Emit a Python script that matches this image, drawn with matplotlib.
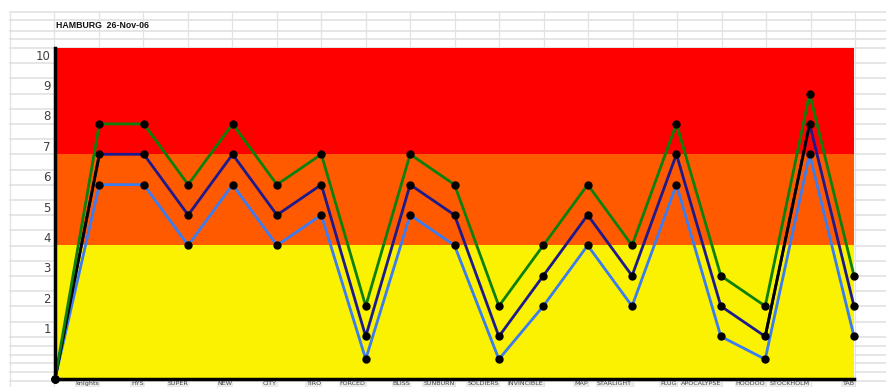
import matplotlib
matplotlib.use('Agg')
import matplotlib.pyplot as plt
import numpy as np

# Dados
pontos = ['', 'knights', 'HYS', 'SUPER', 'NEW', 'CITY', 'TIRO', 'FORCED', 'BLISS',
          'SUNBURN', 'SOLDIERS', 'INVINCIBLE', 'MAP', 'STARLIGHT', 'PLUG',
          'APOCALYPSE', 'HOODOO', 'STOCKHOLM', 'TAB']
serie_verde = [-0.4, 8, 8, 6, 8, 6, 7, 2, 7, 6, 2, 4, 6, 4, 8, 3, 2, 9, 3]
serie_azul_escuro = [-0.4, 7, 7, 5, 7, 5, 6, 1, 6, 5, 1, 3, 5, 3, 7, 2, 1, 8, 2]
serie_azul_claro = [-0.4, 6, 6, 4, 6, 4, 5, 0.25, 5, 4, 0.25, 2, 4, 2, 6, 1, 0.25, 7, 1]
faixas = [-0.4, 4, 7, 10.5]
rotulos_linhas = ['10', '9', '8', '7', '6', '5', '4', '3', '2', '1']
titulo = 'HAMBURG  26-Nov-06'

COLORS = {
    'amarelo': '#FAF200',
    'laranja': '#FF5A00',
    'vermelho': '#FF0000',
    'verde': '#0B800B',
    'azul_escuro': '#1C1A8C',
    'azul_claro': '#3A7CF2',
    'grade': '#E2E2E2',
}

W, H = 886, 387
fig = plt.figure(figsize=(W / 100, H / 100), dpi=100)

# Fundo tipo planilha
bg = fig.add_axes([0, 0, 1, 1])
bg.set_xlim(0, W)
bg.set_ylim(H, 0)
bg.axis('off')

linhas_y = [12, 20, 31, 39, 48] + [48 + 15.2 * k for k in range(1, 20)] + [346, 354.5, 363, 372, 380.5]
for y in linhas_y:
    bg.plot([10, W], [y, y], color=COLORS['grade'], lw=1.2, zorder=1)
for k in range(20):
    x = 10 + 44.5 * k
    bg.plot([x, x], [12, H], color=COLORS['grade'], lw=0.9, zorder=1)

bg.text(56, 25.5, titulo, ha='left', va='center', fontsize=6.3, fontweight='bold',
        family=['Liberation Sans Narrow', 'Liberation Sans', 'DejaVu Sans'], color='#111111')

for i, rot in enumerate(rotulos_linhas):
    bg.text(51, 56 + 30.4 * i, rot, ha='right', va='center', fontsize=8.5,
            color='#404040', family='DejaVu Sans')

# Area do grafico
x0, x1, y_top, y_bot = 55, 854, 48, 379
ax = fig.add_axes([x0 / W, (H - y_bot) / H, (x1 - x0) / W, (y_bot - y_top) / H])
ax.set_xlim(0, len(pontos) - 1)
ax.set_ylim(faixas[0], faixas[-1])

ax.axhspan(faixas[0], faixas[1], color=COLORS['amarelo'], lw=0, zorder=0)
ax.axhspan(faixas[1], faixas[2], color=COLORS['laranja'], lw=0, zorder=0)
ax.axhspan(faixas[2], faixas[3], color=COLORS['vermelho'], lw=0, zorder=0)

x = np.arange(len(pontos))
estilo = dict(lw=2.0, marker='o', markersize=5.0, markerfacecolor='black',
              markeredgecolor='black', clip_on=False)
ax.plot(x, serie_azul_claro, color=COLORS['azul_claro'], zorder=3, **estilo)
ax.plot(x, serie_azul_escuro, color=COLORS['azul_escuro'], zorder=4, **estilo)
# alguns trechos da serie escura aparecem pretos no original
for a, b in [(0, 1), (16, 17)]:
    ax.plot(x[a:b + 1], serie_azul_escuro[a:b + 1], color='black', lw=2.0, zorder=4, clip_on=False)
ax.plot(x, serie_verde, color=COLORS['verde'], zorder=5, **estilo)

for s in ['top', 'right']:
    ax.spines[s].set_visible(False)
ax.spines['left'].set_linewidth(2.5)
ax.spines['bottom'].set_linewidth(2.5)
ax.spines['left'].set_zorder(6)
ax.spines['bottom'].set_zorder(6)

ax.set_yticks([])
ax.set_xticks(x)
ax.set_xticklabels(pontos, ha='right', fontsize=4.6, color='#444444')
ax.tick_params(axis='x', length=0, pad=1.5)
for lbl in ax.get_xticklabels():
    if lbl.get_text():
        lbl.set_bbox(dict(facecolor='#EBEBEB', edgecolor='none', pad=0.6))

fig.savefig('out.png', dpi=100)
